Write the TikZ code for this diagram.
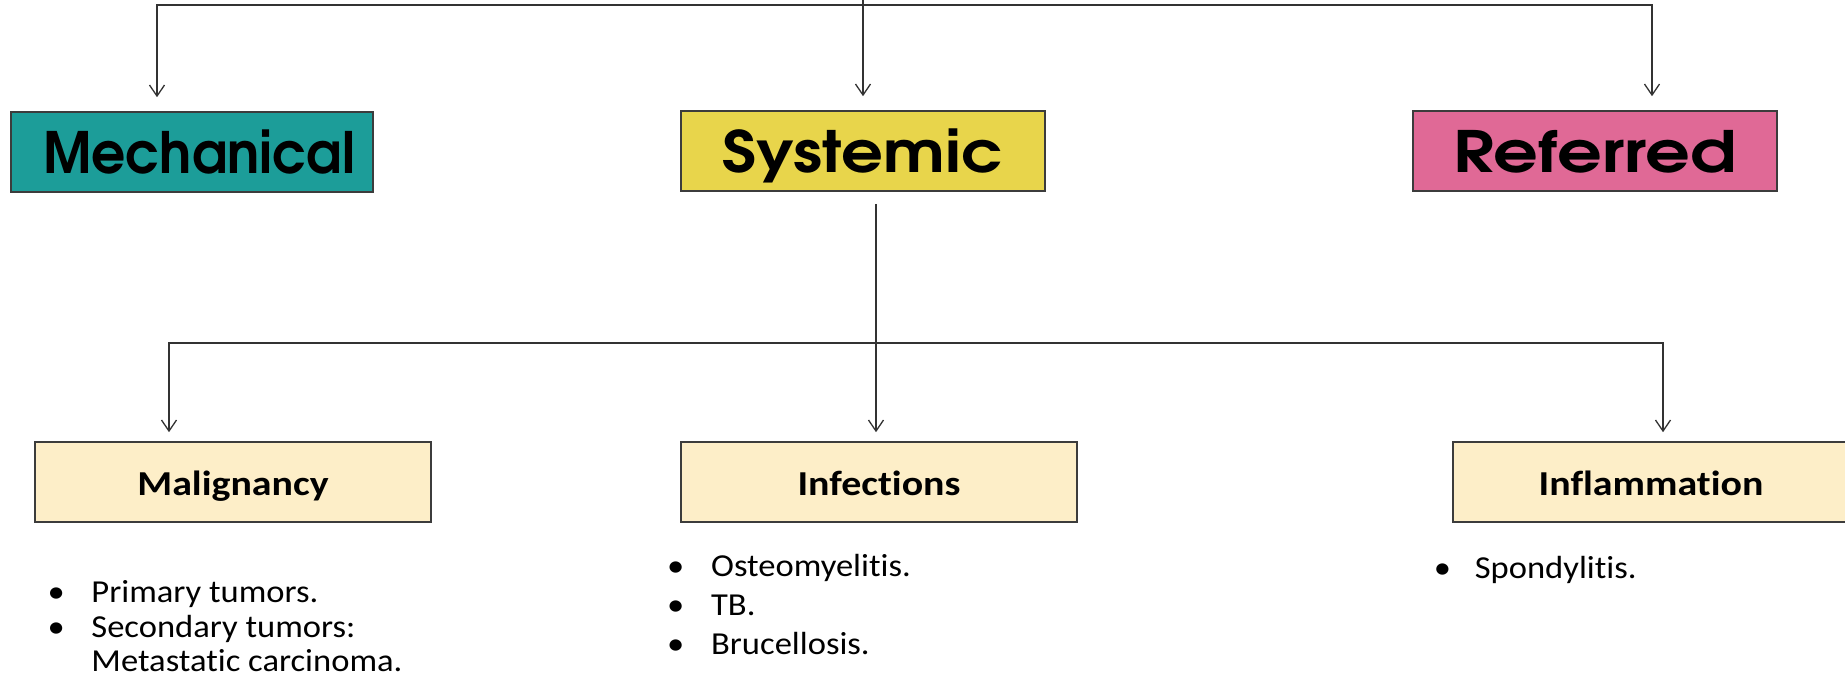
\documentclass[tikz,border=0pt]{standalone}
\usepackage{graphicx}
\usepackage{fontspec}
\setmainfont{Carlito}[Ligatures=NoCommon]
\newfontfamily\gothic{TeX Gyre Adventor}
\usetikzlibrary{arrows.meta}
\definecolor{mechc}{HTML}{1C9D99}
\definecolor{sysc}{HTML}{E8D54B}
\definecolor{refc}{HTML}{E06996}
\definecolor{creamc}{HTML}{FDEEC8}
\definecolor{linec}{HTML}{333333}
\definecolor{boxline}{HTML}{3C3C3C}
\newcommand{\xstretch}[2]{\scalebox{#1}[1]{#2}}
\begin{document}
\begin{tikzpicture}[x=1pt,y=-1pt,
  conn/.style={draw=linec, line width=1.4pt},
  arr/.style={conn, -{Straight Barb[length=11pt,width=15pt,line width=1.3pt]}},
  topbox/.style={draw=boxline, line width=1.6pt, inner sep=0pt, minimum height=80pt,
    text height=42.6pt, text depth=0pt,
    font=\gothic\bfseries\fontsize{57}{60}\selectfont},
  subbox/.style={draw=boxline, line width=1.6pt, inner sep=0pt, fill=creamc,
    minimum width=396pt, minimum height=80pt, text height=27pt, text depth=0pt,
    font=\bfseries\fontsize{35}{40}\selectfont},
  bullets/.style={anchor=base west, inner sep=0pt, font=\fontsize{32}{34.7}\selectfont}
]
\useasboundingbox (0,0) rectangle (1845,691);

% top-level boxes
\node[topbox, fill=mechc, minimum width=362pt] (mech) at (192,152) {\hspace*{14pt}\xstretch{0.94}{Mechanical}};
\node[topbox, fill=sysc, minimum width=364pt] (sys) at (863,151) {\xstretch{1.15}{Systemic}};
\node[topbox, fill=refc, minimum width=364pt] (ref) at (1595,151) {\xstretch{1.23}{Referred}};

% sub boxes
\node[subbox] (mal) at (233,482) {\xstretch{1.14}{Malignancy}};
\node[subbox] (inf) at (879,482) {\xstretch{1.14}{Infections}};
\node[subbox] (infl) at (1651,482) {\xstretch{1.14}{Inflammation}};

% bullet lists
\node[bullets] (mallist) at (47.3,602.3) {\xstretch{1.08}{\begin{tabular}[t]{@{}l@{}}
  \makebox[40.7pt][l]{•}Primary tumors.\\
  \makebox[40.7pt][l]{•}Secondary tumors:\\
  \hspace*{40.7pt}Metastatic carcinoma.\end{tabular}}};
\node[bullets, font=\fontsize{32}{39}\selectfont] (inflist) at (667,576.7) {\xstretch{1.08}{\begin{tabular}[t]{@{}l@{}}
  \makebox[40.7pt][l]{•}Osteomyelitis.\\
  \makebox[40.7pt][l]{•}TB.\\
  \makebox[40.7pt][l]{•}Brucellosis.\end{tabular}}};
\node[bullets] (spolist) at (1433.6,578) {\xstretch{1.08}{\makebox[38pt][l]{•}Spondylitis.}};

% top connectors
\coordinate (src) at (863,0);
\coordinate (jm) at (863,5);
\coordinate (jl) at (157,5);
\coordinate (jr) at (1652,5);
\draw[arr, shorten >=14pt] (src) -- (sys.north);
\draw[arr, shorten >=14pt] (jm) -| (mech.north -| jl);
\draw[arr, shorten >=14pt] (jm) -| (ref.north -| jr);

% lower connectors
\coordinate (jm2) at (876,343);
\coordinate (jl2) at (169,343);
\coordinate (jr2) at (1663,343);
\draw[arr, shorten <=12pt, shorten >=9pt] (sys.south -| jm2) -- (inf.north -| jm2);
\draw[arr, shorten >=9pt] (jm2) -| (mal.north -| jl2);
\draw[arr, shorten >=9pt] (jm2) -| (infl.north -| jr2);
\end{tikzpicture}
\end{document}
